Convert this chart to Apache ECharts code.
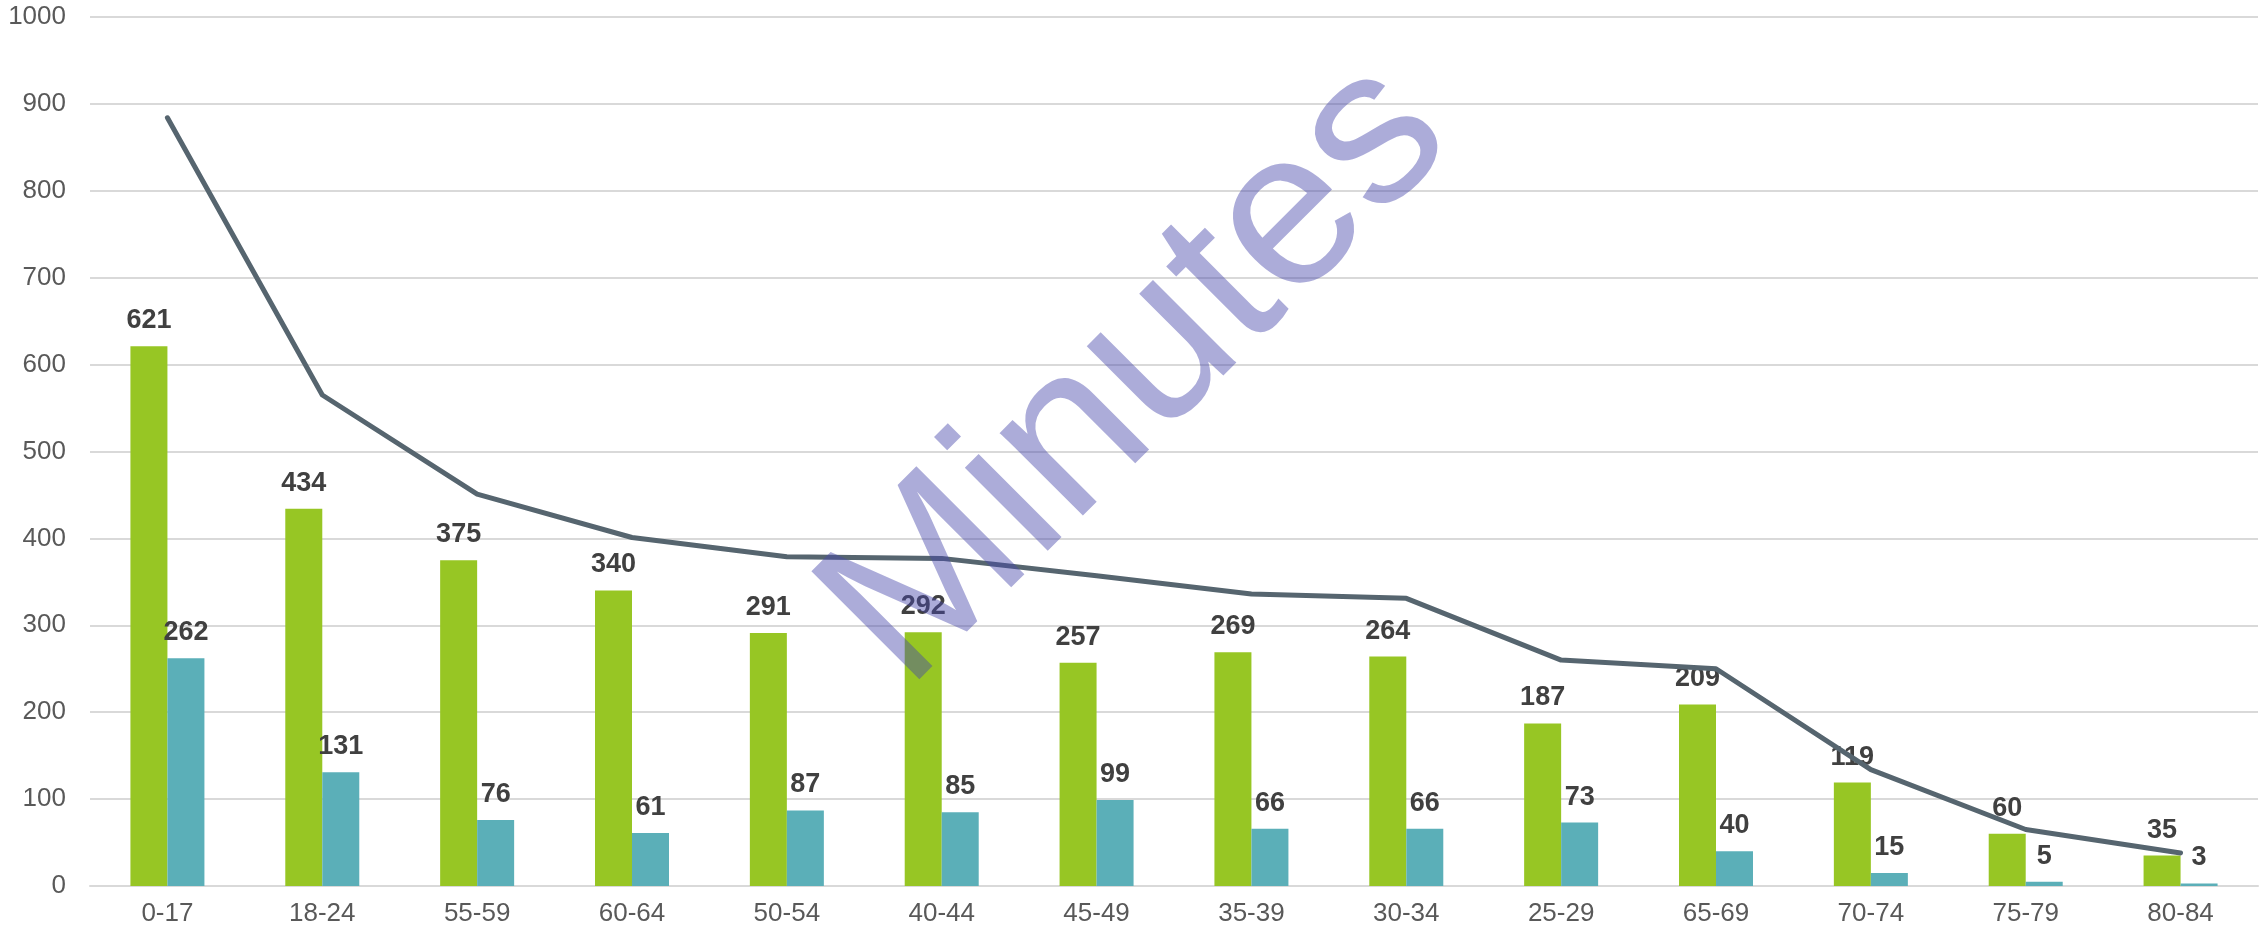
<!DOCTYPE html>
<html>
<head>
<meta charset="utf-8">
<title>Minutes by age group</title>
<script src="https://cdn.jsdelivr.net/npm/echarts@6/dist/echarts.min.js"></script>
<style>
  html, body { margin: 0; padding: 0; background: #fff; }
  #main { width: 2260px; height: 929px; }
</style>
</head>
<body>
<div id="main"></div>
<script>
// age groups, in the order the source chart uses
var categories = ['0-17', '18-24', '55-59', '60-64', '50-54', '40-44', '45-49', '35-39', '30-34', '25-29', '65-69', '70-74', '75-79', '80-84'];
var greenValues = [621, 434, 375, 340, 291, 292, 257, 269, 264, 187, 209, 119, 60, 35];
var tealValues = [262, 131, 76, 61, 87, 85, 99, 66, 66, 73, 40, 15, 5, 3];
// line has no labels
var lineValues = [884, 565, 451, 401, 379, 377, 357, 336, 331, 260, 250, 134, 65, 38];
var yTicks = { min: 0, max: 1000, interval: 100 };

var font = '"Liberation Sans", Arial, sans-serif';

var myChart = echarts.init(document.getElementById('main'));

var barLabel = {
    show: true,
    position: 'top',
    distance: 12,
    fontFamily: font,
    fontSize: 27,
    fontWeight: 'bold',
    color: '#404040'
};

myChart.setOption({
    animation: false,
    backgroundColor: '#fff',
    grid: {
        left: 90,
        right: 2,
        top: 17,
        bottom: 43,
        containLabel: false
    },
    xAxis: {
        type: 'category',
        data: categories,
        axisTick: { show: false },
        axisLine: { lineStyle: { color: '#d9d9d9', width: 2 } },
        axisLabel: {
            margin: 15,
            fontFamily: font,
            fontSize: 26,
            color: '#595959'
        }
    },
    yAxis: {
        type: 'value',
        min: yTicks.min,
        max: yTicks.max,
        interval: yTicks.interval,
        axisLine: { show: false },
        axisTick: { show: false },
        splitLine: { lineStyle: { color: '#d9d9d9', width: 2 } },
        axisLabel: {
            margin: 24,
            fontFamily: font,
            fontSize: 26,
            color: '#595959',
            formatter: function (v) { return String(v); }
        }
    },
    series: [
        {
            name: 'green',
            type: 'bar',
            data: greenValues,
            barWidth: 37,
            barGap: '0%',
            itemStyle: { color: '#97c624' },
            label: barLabel
        },
        {
            name: 'teal',
            type: 'bar',
            data: tealValues,
            barWidth: 37,
            barGap: '0%',
            itemStyle: { color: '#5bafb8' },
            label: barLabel
        },
        {
            name: 'line',
            type: 'line',
            data: lineValues,
            showSymbol: false,
            symbol: 'none',
            z: 5,
            lineStyle: { color: '#56656f', width: 5, cap: 'round', join: 'round' }
        }
    ],
    graphic: [
        {
            type: 'text',
            x: 1138,
            y: 374,
            rotation: Math.PI / 4,
            z: 100,
            silent: true,
            style: {
                text: 'Minutes',
                font: '222px ' + font,
                fill: 'rgba(70,70,170,0.45)',
                align: 'center',
                verticalAlign: 'middle',
                textAlign: 'center',
                textVerticalAlign: 'middle'
            }
        }
    ]
});
</script>
</body>
</html>
